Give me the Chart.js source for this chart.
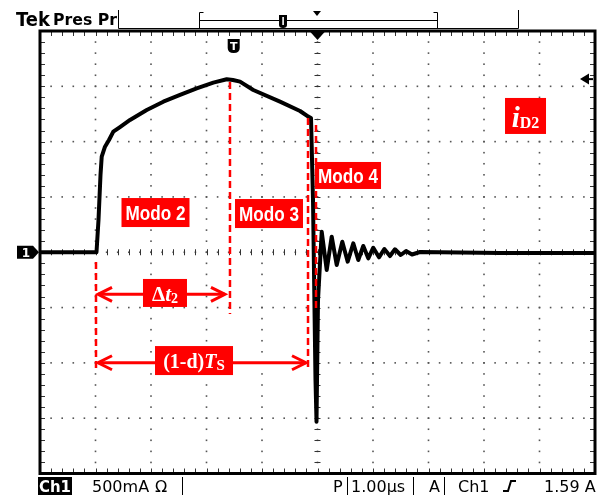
<!DOCTYPE html>
<html>
<head>
<meta charset="utf-8">
<script src="https://cdn.jsdelivr.net/npm/chart.js@4.4.0/dist/chart.umd.min.js"></script>
<style>
  html, body { margin: 0; padding: 0; background: #fff; }
  canvas { display: block; }
</style>
</head>
<body>
<canvas id="scope" width="601" height="495" style="width:601px;height:495px"></canvas>
<script>
// trace: time in us (1.00 us/div), current in A (500 mA/div)
var timeUs = [0, 1.018, 1.054, 1.090, 1.112, 1.171, 1.243, 1.321, 1.441, 1.622, 1.923, 2.222,
  2.523, 2.823, 3.123, 3.364, 3.477, 3.604, 3.843, 4.324, 4.685, 4.834, 4.883, 4.919, 4.964,
  4.982, 5.009, 5.076, 5.166, 5.256, 5.346, 5.447, 5.544, 5.645, 5.735, 5.825, 5.915, 6.005,
  6.108, 6.204, 6.306, 6.396, 6.499, 6.595, 6.703, 6.847, 8.288, 10];
var currentA = [0, 0, 0.292, 0.698, 0.864, 0.954, 1.015, 1.090, 1.132, 1.196, 1.286, 1.361,
  1.422, 1.482, 1.533, 1.564, 1.557, 1.542, 1.467, 1.361, 1.277, 1.226, 1.214, 0.472, -1.155,
  -1.532, -0.432, 0.186, -0.160, 0.141, -0.115, 0.095, -0.085, 0.081, -0.070, 0.057, -0.055, 0.041,
  -0.046, 0.029, -0.034, 0.027, -0.025, 0.011, -0.020, 0.002, -0.007, -0.007];

// red annotations (same units as the trace)
var markerTime = [1.009, 3.423, 4.829, 4.973];
var markerTop = [-0.088, 1.539, 1.214, 1.15];
var markerBottom = [-1.065, -0.558, -1.065, -0.52];

var spanStart = [1.045, 1.045];
var spanEnd = [3.333, 4.793];
var spanLevel = [-0.380, -0.999];

var modeLabels = ['Modo 2', 'Modo 3', 'Modo 4'];
var modeLabelTime = [2.081, 4.126, 5.550];
var modeLabelCurrent = [0.359, 0.350, 0.694];

var triggerLevel = 1.565;

var RED = '#ff0000';
var SERIF = '"Liberation Serif", "DejaVu Serif", serif';

function richText(ctx, pieces, cx, baseY) {
  var w = 0;
  pieces.forEach(function (p) { ctx.font = p[1]; w += ctx.measureText(p[0]).width; });
  var x = cx - w / 2;
  pieces.forEach(function (p) {
    ctx.font = p[1];
    ctx.fillText(p[0], x, baseY + p[2]);
    x += ctx.measureText(p[0]).width;
  });
}

function arrowHead(ctx, x, y, dir) {
  ctx.beginPath();
  ctx.moveTo(x - dir * 14, y - 7);
  ctx.lineTo(x, y);
  ctx.lineTo(x - dir * 14, y + 7);
  ctx.stroke();
}

var scopeGrid = {
  id: 'scopeGrid',
  beforeDatasetsDraw: function (chart) {
    var ctx = chart.ctx, a = chart.chartArea, x = chart.scales.x, y = chart.scales.y;
    var i, j, px, py;
    ctx.save();
    // dotted division lines
    ctx.fillStyle = '#555';
    for (i = 1; i < 10; i++) {
      px = x.getPixelForValue(i);
      for (j = 0; j <= 40; j++) {
        py = y.getPixelForValue(-2 + j * 0.1);
        ctx.fillRect(px - 0.8, py - 0.8, 1.6, 1.6);
      }
    }
    for (j = 1; j < 8; j++) {
      py = y.getPixelForValue(-2 + j * 0.5);
      for (i = 0; i <= 50; i++) {
        px = x.getPixelForValue(i * 0.2);
        ctx.fillRect(px - 0.8, py - 0.8, 1.6, 1.6);
      }
    }
    // minor ticks on centre lines and on the frame
    ctx.strokeStyle = '#333';
    ctx.lineWidth = 1;
    ctx.beginPath();
    var cx = x.getPixelForValue(5), cy = y.getPixelForValue(0);
    for (j = 0; j <= 40; j++) {
      py = Math.round(y.getPixelForValue(-2 + j * 0.1)) + 0.5;
      ctx.moveTo(cx - 3, py); ctx.lineTo(cx + 3, py);
      ctx.moveTo(a.left, py); ctx.lineTo(a.left + 5, py);
      ctx.moveTo(a.right, py); ctx.lineTo(a.right - 5, py);
    }
    for (i = 0; i <= 50; i++) {
      px = Math.round(x.getPixelForValue(i * 0.2)) + 0.5;
      ctx.moveTo(px, cy - 3); ctx.lineTo(px, cy + 3);
      ctx.moveTo(px, a.top); ctx.lineTo(px, a.top + 5);
      ctx.moveTo(px, a.bottom); ctx.lineTo(px, a.bottom - 5);
    }
    ctx.stroke();
    ctx.restore();
  },
  afterDatasetsDraw: function (chart) {
    var ctx = chart.ctx, a = chart.chartArea, x = chart.scales.x, y = chart.scales.y;
    var i, px, py;
    ctx.save();
    // frame
    ctx.strokeStyle = '#000';
    ctx.lineWidth = 3;
    ctx.strokeRect(a.left, a.top, a.right - a.left, a.bottom - a.top);

    // dashed mode boundaries
    ctx.strokeStyle = RED;
    ctx.lineWidth = 2.5;
    ctx.setLineDash([7, 4]);
    for (i = 0; i < markerTime.length; i++) {
      px = x.getPixelForValue(markerTime[i]);
      ctx.beginPath();
      ctx.moveTo(px, y.getPixelForValue(markerTop[i]));
      ctx.lineTo(px, y.getPixelForValue(markerBottom[i]));
      ctx.stroke();
    }
    ctx.setLineDash([]);

    // double arrows
    ctx.lineWidth = 3;
    ctx.lineJoin = 'miter';
    for (i = 0; i < spanStart.length; i++) {
      var x1 = x.getPixelForValue(spanStart[i]), x2 = x.getPixelForValue(spanEnd[i]);
      py = y.getPixelForValue(spanLevel[i]);
      ctx.beginPath();
      ctx.moveTo(x1, py); ctx.lineTo(x2, py);
      ctx.stroke();
      arrowHead(ctx, x1, py, -1);
      arrowHead(ctx, x2, py, 1);
    }

    // mode labels
    ctx.textAlign = 'center';
    ctx.textBaseline = 'alphabetic';
    for (i = 0; i < modeLabels.length; i++) {
      px = x.getPixelForValue(modeLabelTime[i]);
      py = y.getPixelForValue(modeLabelCurrent[i]);
      var bw = i === 2 ? 66 : 68, bh = i === 2 ? 27 : 29;
      ctx.fillStyle = RED;
      ctx.fillRect(px - bw / 2, py - bh / 2, bw, bh);
      ctx.fillStyle = '#fff';
      ctx.font = 'bold 20px "Liberation Sans", Arial, sans-serif';
      ctx.fillText(modeLabels[i], px, py + 7.5, 60);
    }

    // iD2, delta t2 and (1-d)Ts labels
    ctx.textAlign = 'left';
    var rich = [
      { t: 8.748, c: 1.232, w: 41, h: 36, dy: 11,
        pieces: [['i', 'italic bold 29px ' + SERIF, 0], ['D2', 'bold 16px ' + SERIF, 1]] },
      { t: 2.252, c: -0.368, w: 44, h: 28, dy: 8,
        pieces: [['\u0394', 'bold 21px ' + SERIF, 0], ['t', 'italic bold 21px ' + SERIF, 0], ['2', 'bold 14px ' + SERIF, 2]] },
      { t: 2.775, c: -0.979, w: 78, h: 29, dy: 7,
        pieces: [['(1-d)', 'bold 20px ' + SERIF, 0], ['T', 'italic bold 20px ' + SERIF, 0], ['S', 'bold 15px ' + SERIF, 2]] }
    ];
    rich.forEach(function (r) {
      var rx = x.getPixelForValue(r.t), ry = y.getPixelForValue(r.c);
      ctx.fillStyle = RED;
      ctx.fillRect(rx - r.w / 2, ry - r.h / 2, r.w, r.h);
      ctx.fillStyle = '#fff';
      richText(ctx, r.pieces, rx, ry + r.dy);
    });

    // scope markers
    ctx.fillStyle = '#000';
    ctx.strokeStyle = '#000';
    var mx = x.getPixelForValue(5);
    ctx.beginPath();
    ctx.moveTo(mx - 8, a.top); ctx.lineTo(mx + 8, a.top); ctx.lineTo(mx, a.top + 9);
    ctx.closePath(); ctx.fill();

    // channel 1 ground marker
    var gy = y.getPixelForValue(0);
    ctx.beginPath();
    ctx.moveTo(17, gy - 6.5); ctx.lineTo(33, gy - 6.5); ctx.lineTo(39, gy);
    ctx.lineTo(33, gy + 6.5); ctx.lineTo(17, gy + 6.5); ctx.closePath();
    ctx.fill();
    ctx.fillStyle = '#fff';
    ctx.font = 'bold 12px "DejaVu Sans", sans-serif';
    ctx.textAlign = 'center';
    ctx.fillText('1', 26, gy + 4.5);

    // trigger level arrow
    var ty = y.getPixelForValue(triggerLevel);
    ctx.fillStyle = '#000';
    ctx.beginPath();
    ctx.moveTo(580, ty); ctx.lineTo(589, ty - 5.5); ctx.lineTo(589, ty + 5.5);
    ctx.closePath(); ctx.fill();
    ctx.lineWidth = 2;
    ctx.beginPath(); ctx.moveTo(587, ty); ctx.lineTo(593, ty); ctx.stroke();

    // trigger position icon
    var tx = x.getPixelForValue(3.49);
    ctx.beginPath();
    ctx.moveTo(tx - 6, a.top + 8);
    ctx.lineTo(tx + 6, a.top + 8);
    ctx.lineTo(tx + 6, a.top + 17);
    ctx.quadraticCurveTo(tx + 6, a.top + 22, tx, a.top + 22);
    ctx.quadraticCurveTo(tx - 6, a.top + 22, tx - 6, a.top + 17);
    ctx.closePath(); ctx.fill();
    ctx.fillStyle = '#fff';
    ctx.font = 'bold 11px "DejaVu Sans", sans-serif';
    ctx.fillText('T', tx, a.top + 19);
    ctx.restore();
  },
  afterDraw: function (chart) {
    var ctx = chart.ctx;
    ctx.save();
    ctx.fillStyle = '#000';
    ctx.strokeStyle = '#000';
    ctx.textAlign = 'left';
    ctx.textBaseline = 'alphabetic';
    // header
    ctx.font = 'bold 19px "DejaVu Sans", sans-serif';
    ctx.fillText('Tek', 16, 26, 34);
    ctx.font = 'bold 16px "DejaVu Sans", sans-serif';
    ctx.fillText('Pres Pr', 53, 25, 64);
    ctx.lineWidth = 1;
    ctx.beginPath();
    ctx.moveTo(118.5, 10); ctx.lineTo(118.5, 28.5);
    ctx.lineTo(518.5, 28.5); ctx.lineTo(518.5, 10);
    ctx.moveTo(199.5, 12.5); ctx.lineTo(199.5, 28.5);
    ctx.moveTo(437.5, 12.5); ctx.lineTo(437.5, 28.5);
    ctx.moveTo(199.5, 12.5); ctx.lineTo(203.5, 12.5);
    ctx.moveTo(437.5, 12.5); ctx.lineTo(433.5, 12.5);
    ctx.moveTo(199.5, 20.5); ctx.lineTo(437.5, 20.5);
    ctx.stroke();
    ctx.beginPath();
    ctx.moveTo(313, 11); ctx.lineTo(321, 11); ctx.lineTo(317, 16); ctx.closePath(); ctx.fill();
    ctx.beginPath();
    ctx.moveTo(279, 15); ctx.lineTo(287, 15); ctx.lineTo(287, 25);
    ctx.quadraticCurveTo(287, 28, 283, 28); ctx.quadraticCurveTo(279, 28, 279, 25);
    ctx.closePath(); ctx.fill();
    ctx.fillStyle = '#fff';
    ctx.fillRect(282.3, 17, 1.6, 8);
    ctx.fillStyle = '#000';

    // footer
    ctx.fillRect(38, 477, 34, 18);
    ctx.fillStyle = '#fff';
    ctx.font = 'bold 16px "DejaVu Sans", sans-serif';
    ctx.fillText('Ch1', 39, 492, 32);
    ctx.fillStyle = '#000';
    ctx.font = '16px "DejaVu Sans", sans-serif';
    ctx.fillText('500mA', 92, 492);
    ctx.fillText('\u03A9', 155, 492);
    ctx.fillText('P', 333, 492);
    ctx.fillText('1.00\u00B5s', 351, 492, 58);
    ctx.fillText('A', 429, 492);
    ctx.fillText('Ch1', 458, 492);
    ctx.fillText('1.59 A', 544, 492);
    ctx.lineWidth = 1;
    ctx.beginPath();
    [182.5, 347.5, 413.5, 444.5].forEach(function (lx) {
      ctx.moveTo(lx, 477); ctx.lineTo(lx, 495);
    });
    ctx.stroke();
    ctx.lineWidth = 2;
    ctx.beginPath();
    ctx.moveTo(503, 491); ctx.lineTo(508, 491); ctx.lineTo(511, 481); ctx.lineTo(516, 481);
    ctx.stroke();
    ctx.restore();
  }
};

var points = timeUs.map(function (t, i) { return { x: t, y: currentA[i] }; });

var ctx = document.getElementById('scope').getContext('2d');
var scopeChart = new Chart(ctx, {
  type: 'line',
  data: {
    datasets: [{
      label: 'iD2',
      data: points,
      borderColor: '#000',
      borderWidth: 4,
      borderJoinStyle: 'round',
      pointRadius: 0,
      tension: 0,
      fill: false
    }]
  },
  options: {
    responsive: false,
    animation: false,
    events: [],
    layout: { padding: { left: 40, right: 6, top: 31, bottom: 21.5 } },
    plugins: { legend: { display: false }, tooltip: { enabled: false } },
    scales: {
      x: { type: 'linear', min: 0, max: 10, display: false },
      y: { type: 'linear', min: -2, max: 2, display: false }
    }
  },
  plugins: [scopeGrid]
});
</script>
</body>
</html>
